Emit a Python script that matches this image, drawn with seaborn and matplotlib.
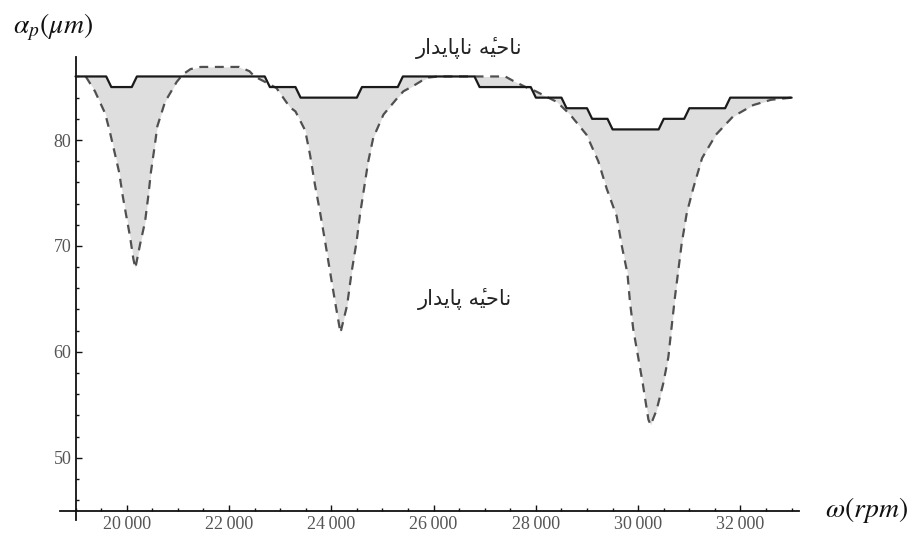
import numpy as np
import pandas as pd
import matplotlib
matplotlib.use("Agg")
import matplotlib.pyplot as plt
import seaborn as sns
from matplotlib.ticker import FixedLocator, MultipleLocator

# ---- data ----
solid_rpm = [19000, 19600, 19700, 20100, 20200, 22700, 22800, 23300, 23400, 24500,
             24600, 25300, 25400, 26800, 26900, 27900, 28000, 28500, 28600, 29000,
             29100, 29400, 29500, 30400, 30500, 30900, 31000, 31700, 31800, 33000]
solid_ap = [86, 86, 85, 85, 86, 86, 85, 85, 84, 84,
            85, 85, 86, 86, 85, 85, 84, 84, 83, 83,
            82, 82, 81, 81, 82, 82, 83, 83, 84, 84]

dash_rpm = [19200, 19380, 19580, 19670, 19770, 19855, 19920, 19990, 20065, 20130,
            20170, 20260, 20360, 20425, 20475, 20550, 20600, 20750, 20980, 21100,
            21250, 21450, 21600, 22200, 22400, 22500, 22700, 22930, 23190, 23300,
            23490, 23585, 23680, 23780, 23880, 23975, 24075, 24180, 24310, 24400,
            24495, 24560, 24640, 24720, 24820, 25020, 25280, 25410, 25600, 25770,
            25900, 26100, 27400, 27550, 27800, 28000, 28200, 28410, 28670, 28990,
            29220, 29385, 29580, 29680, 29790, 29840, 29905, 30000, 30090, 30200,
            30245, 30360, 30490, 30590, 30655, 30720, 30785, 30850, 30950, 31080,
            31250, 31520, 31850, 32250, 32600, 33000]
dash_ap = [86.0, 84.6, 82.5, 80.8, 78.7, 76.9, 74.8, 72.9, 70.9, 68.8,
           67.9, 70.1, 72.3, 74.8, 77.0, 79.5, 81.3, 83.6, 85.5, 86.2,
           86.7, 86.9, 86.9, 86.9, 86.5, 86.0, 85.5, 84.9, 83.1, 82.7,
           80.9, 78.6, 75.8, 73.2, 70.4, 67.6, 64.7, 61.8, 64.4, 67.6,
           70.4, 72.9, 75.4, 77.9, 80.2, 82.4, 83.9, 84.6, 85.1, 85.6,
           85.9, 86.0, 86.0, 85.6, 85.0, 84.6, 84.1, 83.6, 82.4, 80.5,
           78.0, 75.4, 72.8, 70.0, 67.4, 64.7, 62.1, 59.5, 57.0, 53.6,
           53.1, 54.5, 57.0, 59.5, 62.4, 65.2, 67.7, 70.2, 73.1, 75.5,
           78.3, 80.5, 82.2, 83.3, 83.8, 84.0]

x_ticks = [20000, 22000, 24000, 26000, 28000, 30000, 32000]
x_tick_labels = ["20\u2009000", "22\u2009000", "24\u2009000", "26\u2009000",
                 "28\u2009000", "30\u2009000", "32\u2009000"]
y_ticks = [50, 60, 70, 80]
y_tick_labels = ["50", "60", "70", "80"]

# Persian labels (presentation forms, visual order)
w_nahie = "\uFEEA\u0654\uFBFF\uFEA3\uFE8E\uFEE7"               # ناحیهٔ
w_napaydar = "\uFEAD\uFE8D\uFEAA\uFBFE\uFE8E\uFB58\uFE8E\uFEE7"  # ناپایدار
w_paydar = "\uFEAD\uFE8D\uFEAA\uFBFE\uFE8E\uFB58"               # پایدار
unstable_label = w_napaydar + " " + w_nahie
stable_label = w_paydar + " " + w_nahie

# ---- style ----
sns.set_theme(style="white")
plt.rcParams["mathtext.fontset"] = "stix"
plt.rcParams["font.family"] = ["DejaVu Sans"]

fig = plt.figure(figsize=(9.2, 5.36), dpi=100)
ax = fig.add_axes([0.0654, 0.0295, 0.8034, 0.8634])

df_s = pd.DataFrame({"rpm": solid_rpm, "ap": solid_ap})
df_d = pd.DataFrame({"rpm": dash_rpm, "ap": dash_ap})

grid = np.union1d(solid_rpm, dash_rpm)
s_i = np.interp(grid, solid_rpm, solid_ap)
d_i = np.interp(grid, dash_rpm, dash_ap)
ax.fill_between(grid, s_i, d_i, color="#dedede", linewidth=0, zorder=1)

sns.lineplot(data=df_d, x="rpm", y="ap", ax=ax, color="#505050", linewidth=1.6,
             linestyle=(0, (4, 3)), zorder=2)
sns.lineplot(data=df_s, x="rpm", y="ap", ax=ax, color="#1a1a1a", linewidth=1.6,
             zorder=3)

ax.set_xlim(18700, 33150)
ax.set_ylim(44.1, 87.8)

for side in ["top", "right"]:
    ax.spines[side].set_visible(False)
ax.spines["left"].set_position(("data", 19000))
ax.spines["bottom"].set_position(("data", 45))
for side in ["left", "bottom"]:
    ax.spines[side].set_color("#111111")
    ax.spines[side].set_linewidth(1.3)

ax.xaxis.set_major_locator(FixedLocator(x_ticks))
ax.set_xticklabels(x_tick_labels)
ax.yaxis.set_major_locator(FixedLocator(y_ticks))
ax.set_yticklabels(y_tick_labels)
ax.xaxis.set_minor_locator(MultipleLocator(500))
ax.yaxis.set_minor_locator(MultipleLocator(2))
ax.tick_params(which="both", direction="in", bottom=True, left=True,
               color="#111111", width=1.0)
ax.tick_params(which="major", length=4)
ax.tick_params(which="minor", length=2.5)
ax.tick_params(axis="x", pad=4)
ax.tick_params(axis="y", pad=3)
for lab in ax.get_xticklabels() + ax.get_yticklabels():
    lab.set_family(["Liberation Serif", "DejaVu Serif"])
    lab.set_fontsize(13)
    lab.set_color("#555555")

ax.set_xlabel("")
ax.set_ylabel("")
ax.grid(False)

fig.text(53 / 920, 1 - 27 / 536, r"$\alpha_p(\mu m)$", fontsize=20,
         ha="center", va="center", color="#111111")
fig.text(866 / 920, 1 - 510 / 536, r"$\omega(rpm)$", fontsize=20,
         ha="center", va="center", color="#111111")

fig.text(469 / 920, 1 - 48 / 536, unstable_label, fontsize=15,
         family=["DejaVu Sans"], ha="center", va="center", color="#222222")
fig.text(465 / 920, 1 - 299 / 536, stable_label, fontsize=15,
         family=["DejaVu Sans"], ha="center", va="center", color="#222222")

fig.savefig("out.png", dpi=100)
